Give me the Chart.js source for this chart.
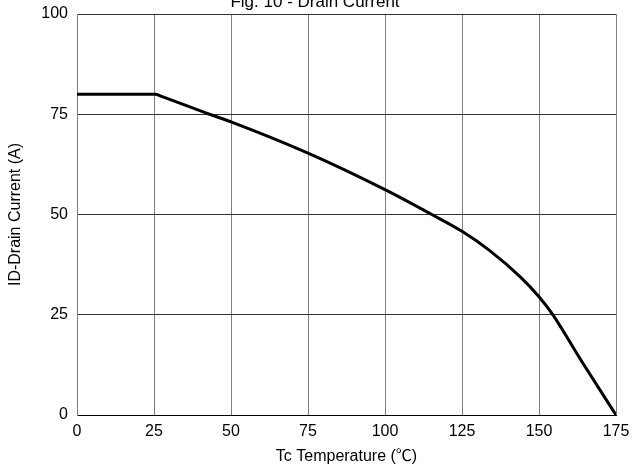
<!DOCTYPE html>
<html>
<head>
<meta charset="utf-8">
<script src="https://cdn.jsdelivr.net/npm/chart.js@4/dist/chart.umd.min.js"></script>
<style>
  html, body { margin: 0; padding: 0; background: #fff; }
  #wrap { width: 640px; height: 468px; }
</style>
</head>
<body>
<div id="wrap"><canvas id="myChart" width="640" height="468"></canvas></div>
<script>
// Fig. 10 - Drain Current vs case temperature
const tempC = [0, 25.5, 27, 43, 50, 75, 100, 115.2, 125, 134, 144, 150, 154.3, 164, 175];
const drainA = [80, 80, 79.6, 75, 73.1, 65.3, 56.2, 50, 45.8, 41.0, 34.4, 29.5, 25.2, 13.2, 0];
const xTicks = [0, 25, 50, 75, 100, 125, 150, 175];
const yTicks = [0, 25, 50, 75, 100];

const FONT = '"Liberation Sans", Arial, "Noto Sans CJK SC", sans-serif';

const titlePlugin = {
    id: 'cutTitle',
    afterDraw(c) {
        const ctx = c.ctx;
        ctx.save();
        ctx.font = '17px ' + FONT;
        ctx.fillStyle = '#000';
        ctx.textAlign = 'center';
        ctx.textBaseline = 'alphabetic';
        ctx.fillText('Fig. 10 - Drain Current', 315, 7);
        ctx.restore();
    }
};

const ctx = document.getElementById('myChart').getContext('2d');
new Chart(ctx, {
    type: 'line',
    data: {
        datasets: [{
            data: tempC.map((t, i) => ({ x: t, y: drainA[i] })),
            borderColor: '#000',
            borderWidth: 3,
            pointRadius: 0,
            fill: false,
            cubicInterpolationMode: 'monotone'
        }]
    },
    options: {
        responsive: false,
        animation: false,
        layout: { padding: { top: 14, right: 24, left: 0, bottom: 0 } },
        plugins: { legend: { display: false }, tooltip: { enabled: false } },
        scales: {
            x: {
                type: 'linear', min: 0, max: 175,
                afterBuildTicks: s => { s.ticks = xTicks.map(v => ({ value: v })); },
                afterFit: s => { s.height = 53; s.paddingLeft = 0; s.paddingRight = 0; },
                grid: { color: '#7f7f7f', lineWidth: 1, drawTicks: false },
                border: { color: '#000', width: 1 },
                ticks: { color: '#000', font: { size: 16, family: FONT }, padding: 7, maxRotation: 0 },
                title: { display: true, text: 'Tc Temperature (℃)', color: '#000', font: { size: 16, family: FONT }, padding: { top: 3, bottom: 2 } }
            },
            y: {
                min: 0, max: 100,
                afterBuildTicks: s => { s.ticks = yTicks.map(v => ({ value: v })); },
                afterFit: s => { s.width = 77; s.paddingTop = 0; s.paddingBottom = 0; },
                grid: { color: '#333', lineWidth: 1, drawTicks: false },
                border: { color: '#7f7f7f', width: 1 },
                ticks: { color: '#000', font: { size: 16, family: FONT }, padding: 9 },
                title: { display: true, text: 'ID-Drain Current (A)', color: '#000', font: { size: 16, family: FONT }, padding: { top: 6, bottom: 12 } }
            }
        }
    },
    plugins: [titlePlugin]
});
</script>
</body>
</html>
